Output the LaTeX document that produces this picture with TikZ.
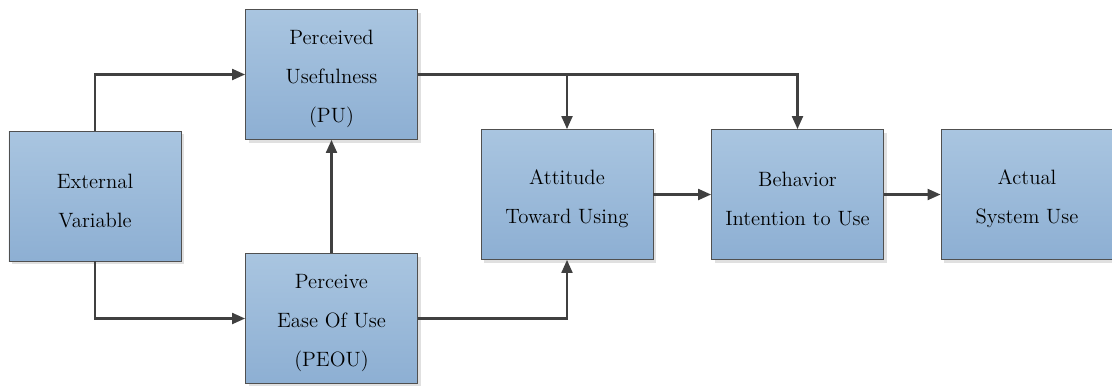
\documentclass[tikz,border=0pt]{standalone}
\usepackage{tikz}
\usetikzlibrary{arrows.meta,shadows}

\definecolor{boxtop}{HTML}{A9C5E0}
\definecolor{boxbot}{HTML}{8DAFD3}
\definecolor{boxline}{HTML}{505050}
\definecolor{arrline}{HTML}{404040}
\newcommand{\topgap}{\rule{0pt}{13.5pt}}

\begin{document}
\begin{tikzpicture}[>={Triangle[length=0.26cm,width=0.22cm]}]
			\tikzstyle{construct} = [draw=boxline, line width=0.5pt, top color=boxtop, bottom color=boxbot,
				minimum width=3.44cm, minimum height=2.6cm, inner sep=0pt, align=center,
				font=\fontsize{11.8}{22.2}\selectfont,
				drop shadow={shadow xshift=0.06cm, shadow yshift=-0.06cm, fill=black!12, opacity=1}]
			\tikzstyle{link} = [->, draw=arrline, line width=1.2pt]
			\useasboundingbox (0,0) rectangle (22.24,-7.7);

			\node[construct] (ev) at (1.9,-3.92) {\topgap External\\Variable};
			\node[construct] (pu) at (6.63,-1.49) {\topgap Perceived\\Usefulness\\(PU)};
			\node[construct] (peou) at (6.63,-6.37) {\topgap Perceive\\Ease Of Use\\(PEOU)};
			\node[construct] (att) at (11.34,-3.89) {\topgap Attitude\\Toward Using};
			\node[construct] (bi) at (15.95,-3.89) {\topgap Behavior\\Intention to Use};
			\node[construct] (asu) at (20.54,-3.89) {\topgap Actual\\System Use};

			\draw[link] (ev.north) |- (pu.west);
			\draw[link] (ev.south) |- (peou.west);
			\draw[link] (peou.north) -- (pu.south);
			\draw[link] (pu.east) -| (att.north);
			\draw[link] (pu.east) -| (bi.north);
			\draw[link] (peou.east) -| (att.south);
			\draw[link] (att.east) -- (bi.west);
			\draw[link] (bi.east) -- (asu.west);

			\end{tikzpicture}
\end{document}
